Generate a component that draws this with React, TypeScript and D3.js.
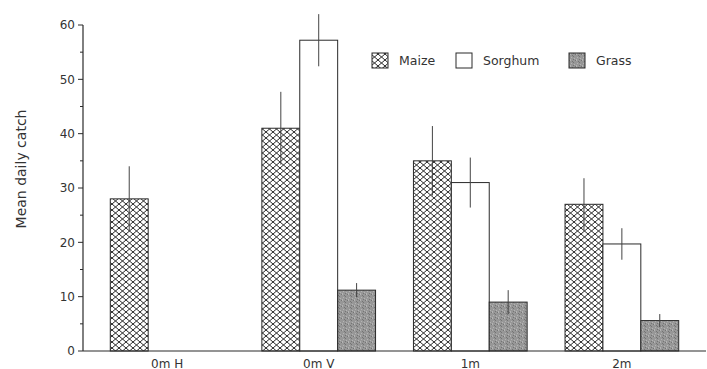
import React from 'react'
import * as d3 from 'd3'

// mean daily catch by trap position and crop
const categories = ['0m H', '0m V', '1m', '2m']
const series = ['Maize', 'Sorghum', 'Grass']

const maize = [28, 41, 35, 27]
const maizeErr = [6, 6.7, 6.4, 4.8]
const sorghum = [null, 57.2, 31, 19.7]
const sorghumErr = [null, 4.8, 4.6, 2.9]
const grass = [null, 11.2, 9, 5.6]
const grassErr = [null, 1.3, 2.2, 1.2]

const yTicks = [0, 10, 20, 30, 40, 50, 60]
const yMinor = [5, 15, 25, 35, 45, 55]

const W = 707
const H = 369

const ink = '#2a2a2a'
const textCol = '#333'
const font = '"DejaVu Sans", Arial, sans-serif'

const fills: Record<string, string> = {
  Maize: 'url(#hatch)',
  Sorghum: '#fff',
  Grass: 'url(#grass)',
}

// speckle dots for the grass texture (fixed layout)
const speckle = [
  [0.5, 0.5], [2.5, 1.5], [1.5, 3.5], [3.5, 2.5], [4.5, 4.5], [5.5, 0.5], [0.5, 5.5], [3.5, 5.5],
]

const App = () => {
  const x = d3.scaleBand<string>()
    .domain(categories)
    .range([83, 706])
    .paddingInner(0.25)
    .paddingOuter(0.18)

  const xs = d3.scaleBand<string>()
    .domain(series)
    .range([0, x.bandwidth()])

  const y = d3.scaleLinear().domain([0, 60]).range([351, 25])

  const rows = categories.flatMap((c, i) => [
    {cat: c, s: 'Maize', v: maize[i], e: maizeErr[i]},
    {cat: c, s: 'Sorghum', v: sorghum[i], e: sorghumErr[i]},
    {cat: c, s: 'Grass', v: grass[i], e: grassErr[i]},
  ]).filter(d => d.v != null)

  const legendX = [372, 456, 569]

  return (
    <svg width={W} height={H} style={{position: 'absolute', left: 0, top: 0, background: '#fff'}}
      fontFamily={font}>
      <defs>
        <pattern id="hatch" patternUnits="userSpaceOnUse" width={7} height={6}>
          <rect width={7} height={6} fill="#fff" />
          <path d="M0,0 L7,6 M7,0 L0,6" stroke={ink} strokeWidth={1} />
        </pattern>
        <pattern id="grass" patternUnits="userSpaceOnUse" width={6} height={6}>
          <rect width={6} height={6} fill="#979797" />
          {speckle.map(([px, py], i) => (
            <rect key={i} x={px - 0.5} y={py - 0.5} width={1} height={1}
              fill={i % 2 ? '#747474' : '#b4b4b4'} />
          ))}
        </pattern>
      </defs>

      {/* bars */}
      {rows.map((d, i) => {
        const bx = x(d.cat)! + xs(d.s)!
        return (
          <rect key={i} x={bx} y={y(d.v as number)} width={xs.bandwidth()}
            height={y(0) - y(d.v as number)} fill={fills[d.s]} stroke={ink} strokeWidth={1} />
        )
      })}

      {/* error bars */}
      {rows.map((d, i) => {
        const cx = x(d.cat)! + xs(d.s)! + xs.bandwidth() / 2
        return (
          <line key={i} x1={cx} x2={cx} y1={y((d.v as number) + (d.e as number))}
            y2={y((d.v as number) - (d.e as number))} stroke="#444" strokeWidth={1} />
        )
      })}

      {/* y axis */}
      <line x1={83} x2={83} y1={y(60)} y2={y(0)} stroke={ink} strokeWidth={1.2} />
      {yTicks.map(t => (
        <g key={t}>
          <line x1={78} x2={83} y1={y(t)} y2={y(t)} stroke={ink} />
          <text x={75} y={y(t)} dy="0.36em" textAnchor="end" fontSize={12} fill={textCol}>{t}</text>
        </g>
      ))}
      {yMinor.map(t => (
        <line key={t} x1={80} x2={83} y1={y(t)} y2={y(t)} stroke={ink} />
      ))}
      <text transform="translate(26,169) rotate(-90)" textAnchor="middle"
        fontSize={14} fill={textCol}>Mean daily catch</text>

      {/* x axis */}
      <line x1={83} x2={706} y1={y(0)} y2={y(0)} stroke={ink} strokeWidth={1.2} />
      {categories.map(c => (
        <text key={c} x={x(c)! + x.bandwidth() / 2} y={367.5} textAnchor="middle" fontSize={12}
          fill={textCol}>{c}</text>
      ))}

      {/* legend */}
      {series.map((s, i) => (
        <g key={s}>
          <rect x={legendX[i]} y={53} width={16} height={15} fill={fills[s]} stroke={ink} strokeWidth={1} />
          <text x={legendX[i] + 27} y={60.5} dy="0.36em" fontSize={12.5} fill={textCol}>{s}</text>
        </g>
      ))}
    </svg>
  )
}

export default App
